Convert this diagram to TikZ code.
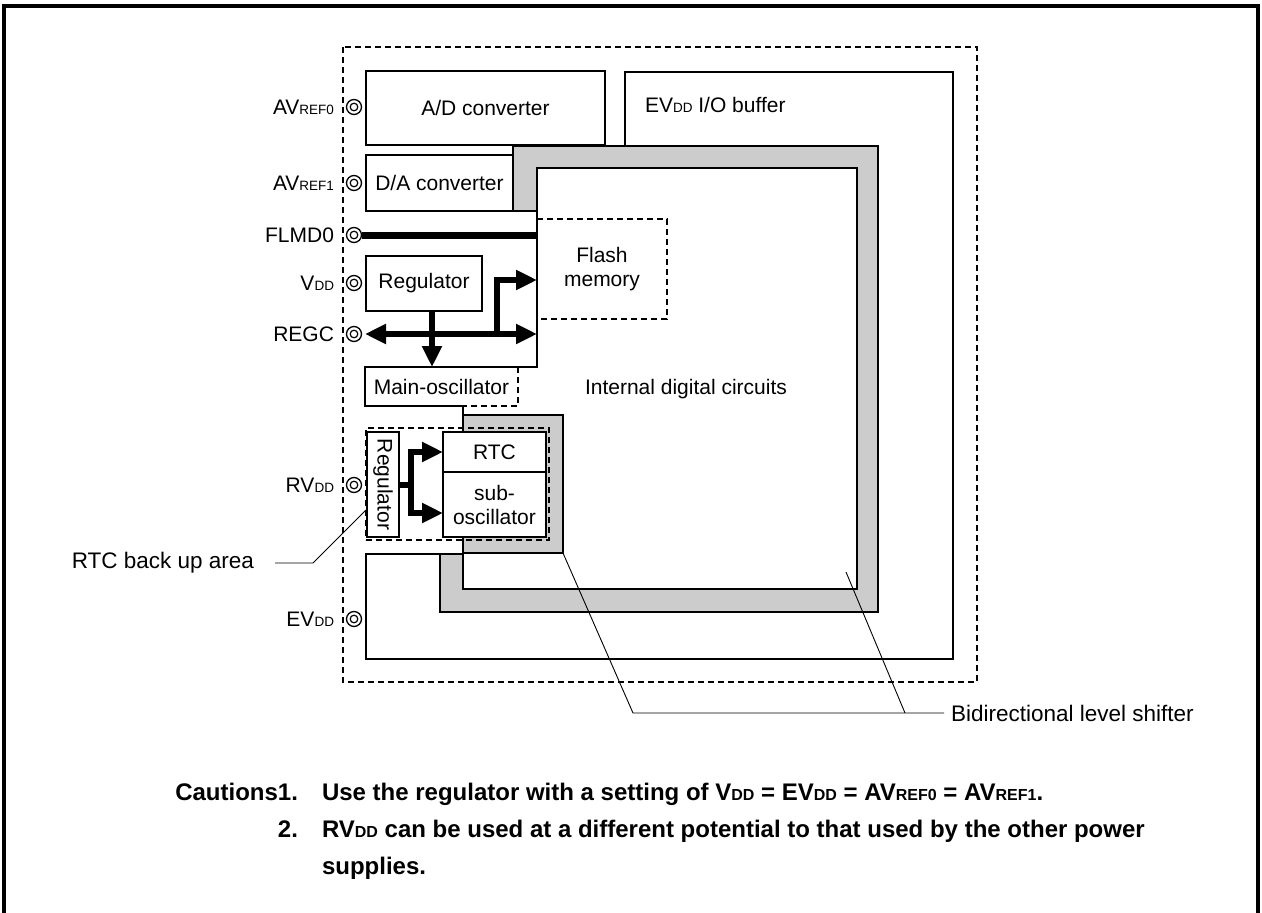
\documentclass[tikz,border=0pt]{standalone}
\usepackage{fontspec}
\setmainfont{Liberation Sans}
\usepackage{graphicx}
\usetikzlibrary{arrows.meta}
\newcommand\lsub[1]{{\fontsize{13.5}{14}\selectfont #1}}
\newcommand\csub[1]{{\fontsize{16}{17}\selectfont #1}}
\begin{document}
\begin{tikzpicture}[x=1pt,y=-1pt,
 every node/.style={inner sep=0pt, outer sep=0pt},
 txt/.style={font=\fontsize{21}{24}\selectfont, align=center},
 bigtxt/.style={font=\fontsize{22.5}{26}\selectfont},
 blk/.style={txt, draw, line width=2.6pt, fill=white},
 dotbox/.style={line width=2.6pt, dash pattern=on 6pt off 4pt},
 pincirc/.style={circle, draw, line width=1.3pt, minimum size=15pt, fill=white},
 tline/.style={line width=6pt, line join=miter},
 arrtip/.style={-{Triangle[length=21pt,width=19pt]}},
 leadline/.style={line width=0.9pt},
 lvlshift/.style={fill=black!20, draw, line width=2.6pt, line join=miter},
 cau/.style={font=\bfseries\fontsize{24}{28}\selectfont},
]
\useasboundingbox (0,0) rectangle (1262,913);
% page frame
\draw[line width=4pt, line join=miter] (4,913) -- (4,6) -- (1258,6) -- (1258,913);
% chip outline
\draw[dotbox] (343,47) rectangle (977,682);
% EVDD I/O buffer
\draw[line width=2.6pt, line join=miter] (625,146) -- (625,72) -- (953,72) -- (953,659) -- (366,659) -- (366,554) -- (463,554);
\node[txt, anchor=base west] (evb) at (645,112.5) {EV\lsub{DD} I/O buffer};
% A/D converter
\node[blk, minimum width=239pt, minimum height=74pt] (adc) at (485.5,108) {A/D converter};
% level shifter band
\draw[lvlshift] (513,211) -- (513,146) -- (878,146) -- (878,612) -- (440,612) -- (440,554) -- (463,554) -- (463,589) -- (857,589) -- (857,168) -- (537,168) -- (537,211) -- cycle;
% D/A converter
\node[blk, minimum width=147pt, minimum height=56pt] (dac) at (439.5,183) {D/A converter};
% internal digital circuits border
\draw[line width=2.6pt, line join=miter] (537,168) -- (537,367) -- (365,367) -- (365,406) -- (463,406) -- (463,589);
\node[txt] (mosc) at (441.5,387) {Main-oscillator};
\draw[dotbox] (518,367) -- (518,406) -- (463,406);
\node[txt, minimum width=130pt, minimum height=100pt] (flash) at (602,269) {Flash\\memory};
\draw[dotbox] (flash.north west) -- (flash.north east) -- (flash.south east) -- (flash.south west);
\node[txt] (idc) at (686,389) {Internal digital circuits};
% regulator
\node[blk, minimum width=116pt, minimum height=55pt] (reg) at (424,283.5) {Regulator};
% small level shifter part
\node[lvlshift, minimum width=100pt, minimum height=138pt, anchor=north west] (lsh2) at (463,415) {};
% RTC back up area
\node[draw, dotbox, minimum width=183pt, minimum height=112pt, anchor=north west] (bkp) at (366,428) {};
\node[blk, minimum width=32pt, minimum height=105pt, anchor=north west] (reg2) at (367,432) {};
\node[txt, rotate=-90] (reg2t) at (reg2.center) {Regulator};
\node[blk, minimum width=103pt, minimum height=40pt, anchor=north west] (rtc) at (443,432) {RTC};
\node[blk, minimum width=103pt, minimum height=65pt, anchor=north west] (sub) at (443,472) {sub-\\oscillator};
% pins
\foreach \n/\y in {pA0/107, pA1/183, pF/235, pV/283, pR/334, pRV/485, pE/619}{
  \node[pincirc] (\n) at (354,\y) {};
  \draw[line width=1.2pt] (\n.center) circle[radius=3.8];
}
\node[txt, anchor=base east] (lA0) at (334,114.5) {AV\lsub{REF0}};
\node[txt, anchor=base east] (lA1) at (334,190.5) {AV\lsub{REF1}};
\node[txt, anchor=base east] (lF) at (334,242.5) {FLMD0};
\node[txt, anchor=base east] (lV) at (334,290.5) {V\lsub{DD}};
\node[txt, anchor=base east] (lR) at (334,341.5) {REGC};
\node[txt, anchor=base east] (lRV) at (334,492.5) {RV\lsub{DD}};
\node[txt, anchor=base east] (lE) at (334,626.5) {EV\lsub{DD}};
% connectors
\coordinate (regcL) at (365,334);
\coordinate (regcR) at (537,334);
\coordinate (regD) at (432,311);
\coordinate (moscT) at (432,367);
\coordinate (brV) at (497,337);
\coordinate (flashIn) at (537,280);
\coordinate (flmdR) at (537,235);
\coordinate (rtcBr) at (411,484.5);
\coordinate (subIn) at (443,513);
\draw[line width=7pt] (pF.east) -- (flmdR);
\draw[tline, {Triangle[length=21pt,width=19pt]}-{Triangle[length=21pt,width=19pt]}] (regcL) -- (regcR);
\draw[tline, arrtip] (regD) -- (moscT);
\draw[tline, arrtip] (brV) |- (flashIn);
\draw[tline] (reg2.east) -- (rtcBr);
\draw[tline, arrtip] (rtcBr) |- (rtc.west);
\draw[tline, arrtip] (rtcBr) |- (subIn);
% leaders
\node[bigtxt, anchor=east] (rtcl) at (254,563) {RTC back up area};
\coordinate (bkpPt) at (366,510);
\coordinate (l1) at (275,563);
\coordinate (l2) at (313,563);
\draw[leadline] (l1) -- (l2) -- (bkpPt);
\node[bigtxt, anchor=west] (bls) at (951,713) {Bidirectional level shifter};
\coordinate (lsIn) at (846,572);
\coordinate (j1) at (633,713);
\coordinate (j2) at (905,713);
\coordinate (jEnd) at (944,713);
\draw[leadline] (lsh2.south east) -- (j1) -- (jEnd);
\draw[leadline] (lsIn) -- (j2);
% cautions
\node[cau, anchor=base east] (c1) at (298,800) {Cautions1.};
\node[cau, anchor=base west] (c1t) at (322,800) {Use the regulator with a setting of V\csub{DD} = EV\csub{DD} = AV\csub{REF0} = AV\csub{REF1}.};
\node[cau, anchor=base east] (c2) at (298,837) {2.};
\node[cau, anchor=base west] (c2t) at (322,837) {RV\csub{DD} can be used at a different potential to that used by the other power};
\node[cau, anchor=base west] (c3) at (322,874) {supplies.};
\end{tikzpicture}
\end{document}
